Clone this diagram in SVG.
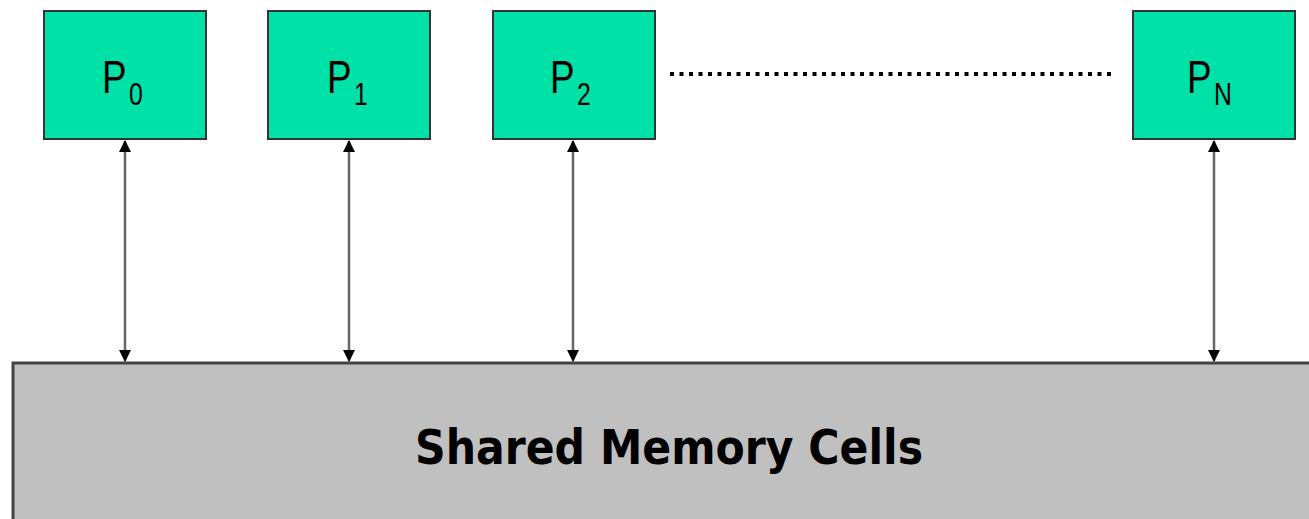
<svg xmlns="http://www.w3.org/2000/svg" width="1309" height="519" viewBox="0 0 1309 519">
<style>
.proc{fill:#00E1A8;stroke:#333;stroke-width:2}
.lbl{font-family:"Liberation Sans",Arial,sans-serif;fill:#000}
.main{font-size:46px}
.sub{font-size:31px}
.conn{stroke:#666;stroke-width:2.5;fill:none}
.mem{fill:#C0C0C0;stroke:#444;stroke-width:3}
</style>
<defs>
<marker id="ah" markerWidth="12" markerHeight="14" refX="11" refY="6" orient="auto-start-reverse" markerUnits="userSpaceOnUse" viewBox="0 0 12 12">
<path d="M0,0 L12,6 L0,12 Z" fill="#000"/>
</marker>
</defs>
<rect width="1309" height="519" fill="#fff"/>
<g id="memory">
<rect class="mem" x="13" y="363" width="1310" height="170"/>
<text x="669" y="464" text-anchor="middle" font-family="'DejaVu Sans',Verdana,sans-serif" font-weight="bold" font-size="48" textLength="508" lengthAdjust="spacingAndGlyphs">Shared Memory Cells</text>
</g>
<g id="p0">
<rect class="proc" x="44" y="11" width="162" height="128"/>
<text class="lbl" transform="translate(102,93) scale(0.8,1)"><tspan class="main">P</tspan><tspan class="sub" dx="3" dy="12">0</tspan></text>
</g>
<g id="p1">
<rect class="proc" x="268" y="11" width="162" height="128"/>
<text class="lbl" transform="translate(327,93) scale(0.8,1)"><tspan class="main">P</tspan><tspan class="sub" dx="3" dy="12">1</tspan></text>
</g>
<g id="p2">
<rect class="proc" x="493" y="11" width="162" height="128"/>
<text class="lbl" transform="translate(550,93) scale(0.8,1)"><tspan class="main">P</tspan><tspan class="sub" dx="3" dy="12">2</tspan></text>
</g>
<g id="pn">
<rect class="proc" x="1133" y="11" width="162" height="128"/>
<text class="lbl" transform="translate(1187,93) scale(0.8,1)"><tspan class="main">P</tspan><tspan class="sub" dx="3" dy="12">N</tspan></text>
</g>
<g id="connectors">
<line class="conn" x1="125" y1="141" x2="125" y2="361" marker-start="url(#ah)" marker-end="url(#ah)"/>
<line class="conn" x1="349" y1="141" x2="349" y2="361" marker-start="url(#ah)" marker-end="url(#ah)"/>
<line class="conn" x1="573" y1="141" x2="573" y2="361" marker-start="url(#ah)" marker-end="url(#ah)"/>
<line class="conn" x1="1214" y1="141" x2="1214" y2="361" marker-start="url(#ah)" marker-end="url(#ah)"/>
<line x1="670" y1="74" x2="1114" y2="74" stroke="#000" stroke-width="4" stroke-dasharray="4 5.5"/>
</g>
</svg>
